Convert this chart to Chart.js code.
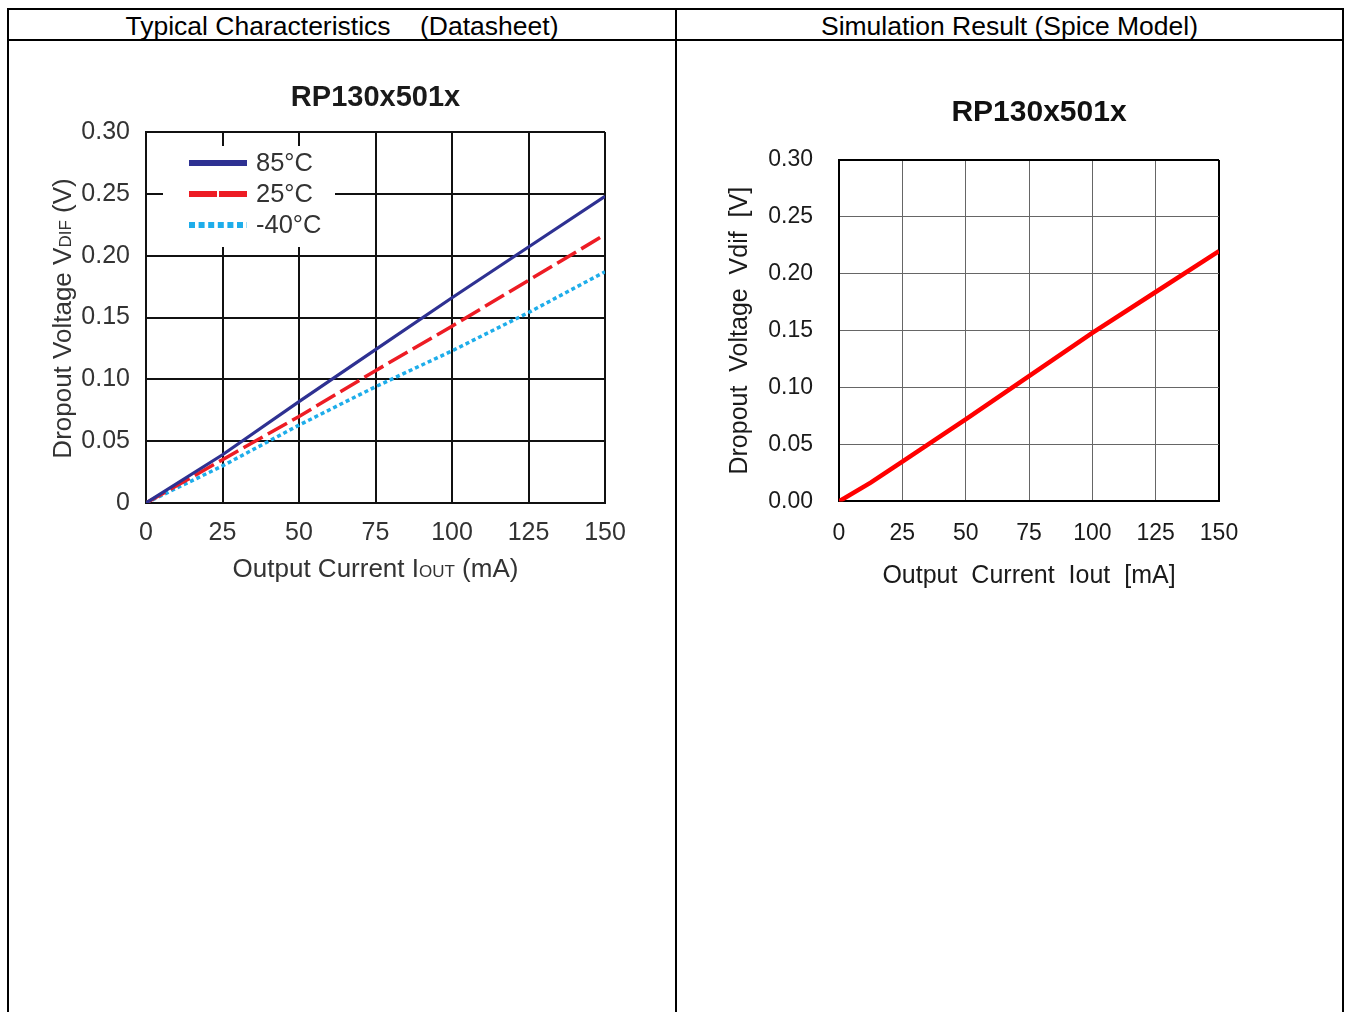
<!DOCTYPE html>
<html>
<head>
<meta charset="utf-8">
<title>RP130x501x dropout voltage</title>
<script src="https://cdn.jsdelivr.net/npm/chart.js@4.4.1/dist/chart.umd.min.js"></script>
<style>
html, body { margin: 0; padding: 0; background: #fff; overflow: hidden; width: 1349px; height: 1012px; }
.rule { position: absolute; background: #000; }
.head { position: absolute; top: 11px; height: 29px; line-height: 29px; text-align: center; font: 26.5px "Liberation Sans", Arial, sans-serif; white-space: pre; color: #000; }
canvas { position: absolute; }
</style>
</head>
<body>
<div class="rule" style="left:7px; top:8px; width:1337px; height:2px"></div>
<div class="rule" style="left:7px; top:39px; width:1337px; height:2px"></div>
<div class="rule" style="left:7px; top:8px; width:2px; height:1004px"></div>
<div class="rule" style="left:675px; top:8px; width:2px; height:1004px"></div>
<div class="rule" style="left:1342px; top:8px; width:2px; height:1004px"></div>
<div class="head" style="left:9px; width:666px">Typical Characteristics    (Datasheet)</div>
<div class="head" style="left:677px; width:665px">Simulation Result (Spice Model)</div>
<canvas id="datasheet" width="750" height="580" style="left:0; top:50px"></canvas>
<canvas id="spice" width="638" height="580" style="left:720px; top:50px"></canvas>
<script>
'use strict';

var FONT = '"Liberation Sans", Arial, sans-serif';
Chart.defaults.font.family = FONT;

// datasheet curves
var currentSteps = [0, 25, 50, 75, 100, 125, 150];
var vdif85 = [0, 0.039, 0.082, 0.124, 0.166, 0.207, 0.248];
var vdif25 = [0, 0.035, 0.070, 0.107, 0.143, 0.180, 0.217];
var vdifMinus40 = [0, 0.030, 0.063, 0.094, 0.123, 0.154, 0.187];
var tempLabels = ['85°C', '25°C', '-40°C'];

// spice model result
var simCurrent = [0, 12.5, 25, 50, 75, 100, 125, 150];
var simVdif = [0, 0.0165, 0.035, 0.072, 0.110, 0.148, 0.184, 0.220];

// axes
var xTicks = [0, 25, 50, 75, 100, 125, 150];
var yTicks = [0, 0.05, 0.10, 0.15, 0.20, 0.25, 0.30];
var yLabelsDatasheet = ['0', '0.05', '0.10', '0.15', '0.20', '0.25', '0.30'];
var yLabelsSpice = ['0.00', '0.05', '0.10', '0.15', '0.20', '0.25', '0.30'];

function pairs(xs, ys) {
    return xs.map(function(x, i) { return {x: x, y: ys[i]}; });
}

function setTicks(values) {
    return function(scale) {
        scale.ticks = values.map(function(v) { return {value: v}; });
    };
}

function setSize(w, h) {
    return function(scale) {
        if (w) scale.width = w;
        if (h) scale.height = h;
    };
}

// chart heading, placed relative to the plot area
function plotTitle(text, size, dx, dy, color) {
    return {
        id: 'plotTitle',
        afterDraw: function(chart) {
            var ctx = chart.ctx;
            var a = chart.chartArea;
            ctx.save();
            ctx.font = 'bold ' + size + 'px ' + FONT;
            ctx.fillStyle = color;
            ctx.textAlign = 'center';
            ctx.textBaseline = 'middle';
            ctx.fillText(text, (a.left + a.right) / 2 + dx, a.top - dy);
            ctx.restore();
        }
    };
}

// text with a small subscript part, centred on cx, cy
function drawRich(ctx, parts, cx, cy, angle, color) {
    ctx.save();
    ctx.translate(cx, cy);
    ctx.rotate(angle);
    ctx.textBaseline = 'alphabetic';
    ctx.textAlign = 'left';
    var total = 0;
    parts.forEach(function(p) {
        ctx.font = p.size + 'px ' + FONT;
        p.w = ctx.measureText(p.text).width;
        total += p.w;
    });
    var x = -total / 2;
    parts.forEach(function(p) {
        ctx.font = p.size + 'px ' + FONT;
        ctx.fillStyle = color;
        ctx.fillText(p.text, x, 9);
        x += p.w;
    });
    ctx.restore();
}

var legendDash = [[], [28, 2], [6, 3.6]];

var datasheetExtras = {
    id: 'datasheetExtras',
    beforeDatasetsDraw: function(chart) {
        var ctx = chart.ctx;
        var a = chart.chartArea;
        ctx.save();
        ctx.fillStyle = '#fff';
        ctx.fillRect(a.left + 17, a.top + 14, 172, 101);
        chart.data.datasets.forEach(function(ds, i) {
            var y = a.top + 31 + i * 31;
            ctx.strokeStyle = ds.borderColor;
            ctx.lineWidth = 6;
            ctx.setLineDash(legendDash[i]);
            ctx.beginPath();
            ctx.moveTo(a.left + 43, y);
            ctx.lineTo(a.left + 101, y);
            ctx.stroke();
            ctx.setLineDash([]);
            ctx.fillStyle = '#333';
            ctx.font = '25.5px ' + FONT;
            ctx.textBaseline = 'middle';
            ctx.fillText(ds.label, a.left + 110, y + 1);
        });
        ctx.restore();
    },
    afterDraw: function(chart) {
        var a = chart.chartArea;
        drawRich(chart.ctx, [
            {text: 'Output Current I', size: 26},
            {text: 'OUT', size: 17},
            {text: ' (mA)', size: 26}
        ], (a.left + a.right) / 2, a.bottom + 65, 0, '#333');
        drawRich(chart.ctx, [
            {text: 'Dropout Voltage V', size: 26},
            {text: 'DIF', size: 17},
            {text: ' (V)', size: 26}
        ], a.left - 84, (a.top + a.bottom) / 2 + 1, -Math.PI / 2, '#333');
    }
};

new Chart(document.getElementById('datasheet'), {
    type: 'line',
    data: {
        datasets: [
            {
                label: tempLabels[0],
                data: pairs(currentSteps, vdif85),
                borderColor: '#2E3192',
                borderWidth: 3.2
            },
            {
                label: tempLabels[1],
                data: pairs(currentSteps, vdif25),
                borderColor: '#ED1C24',
                borderWidth: 3.5,
                borderDash: [22, 6]
            },
            {
                label: tempLabels[2],
                data: pairs(currentSteps, vdifMinus40),
                borderColor: '#1EADEA',
                borderWidth: 3.5,
                borderDash: [4, 3]
            }
        ]
    },
    options: {
        responsive: false,
        animation: false,
        devicePixelRatio: 1,
        elements: { point: { radius: 0 }, line: { tension: 0 } },
        layout: { padding: { left: 40, right: 145, top: 82, bottom: 0 } },
        plugins: {
            legend: { display: false },
            tooltip: { enabled: false },
            title: { display: false }
        },
        scales: {
            x: {
                type: 'linear',
                min: 0,
                max: 150,
                afterBuildTicks: setTicks(xTicks),
                afterFit: setSize(0, 127),
                grid: { color: '#111', lineWidth: 2, drawTicks: false },
                border: { color: '#111', width: 2 },
                ticks: { color: '#333', font: { size: 25 }, padding: 15, maxRotation: 0 }
            },
            y: {
                min: 0,
                max: 0.3,
                afterBuildTicks: setTicks(yTicks),
                afterFit: setSize(106, 0),
                grid: { color: '#111', lineWidth: 2, drawTicks: false },
                border: { color: '#111', width: 2 },
                ticks: {
                    color: '#333',
                    font: { size: 25 },
                    padding: 16,
                    callback: function(v, i) { return yLabelsDatasheet[i]; }
                }
            }
        }
    },
    plugins: [datasheetExtras, plotTitle('RP130x501x', 29, 0, 34, '#1a1a1a')]
});

function edgeColor(maxValue) {
    return function(c) { return c.tick && c.tick.value === maxValue ? '#000' : '#666'; };
}
function edgeWidth(maxValue) {
    return function(c) { return c.tick && c.tick.value === maxValue ? 2 : 1; };
}

new Chart(document.getElementById('spice'), {
    type: 'line',
    data: {
        datasets: [{
            label: 'Vdif',
            data: pairs(simCurrent, simVdif),
            borderColor: '#FF0000',
            borderWidth: 4.5
        }]
    },
    options: {
        responsive: false,
        animation: false,
        devicePixelRatio: 1,
        elements: { point: { radius: 0 }, line: { tension: 0 } },
        layout: { padding: { left: 5.6, right: 139, top: 110, bottom: 38.6 } },
        plugins: {
            legend: { display: false },
            tooltip: { enabled: false },
            title: { display: false }
        },
        scales: {
            x: {
                type: 'linear',
                min: 0,
                max: 150,
                afterBuildTicks: setTicks(xTicks),
                afterFit: setSize(0, 90),
                grid: { color: edgeColor(150), lineWidth: edgeWidth(150), drawTicks: false },
                border: { color: '#000', width: 2 },
                ticks: { color: '#1a1a1a', font: { size: 23 }, padding: 18, maxRotation: 0 },
                title: {
                    display: true,
                    text: 'Output  Current  Iout  [mA]',
                    color: '#1a1a1a',
                    font: { size: 25 },
                    padding: 0
                }
            },
            y: {
                min: 0,
                max: 0.3,
                afterBuildTicks: setTicks(yTicks),
                afterFit: setSize(113.4, 0),
                grid: { color: edgeColor(0.3), lineWidth: edgeWidth(0.3), drawTicks: false },
                border: { color: '#000', width: 2 },
                ticks: {
                    color: '#1a1a1a',
                    font: { size: 23 },
                    padding: 26,
                    callback: function(v, i) { return yLabelsSpice[i]; }
                },
                title: {
                    display: true,
                    text: 'Dropout  Voltage  Vdif  [V]',
                    color: '#1a1a1a',
                    font: { size: 25 },
                    padding: 0
                }
            }
        }
    },
    plugins: [plotTitle('RP130x501x', 30, 10, 47, '#111')]
});
</script>
</body>
</html>
